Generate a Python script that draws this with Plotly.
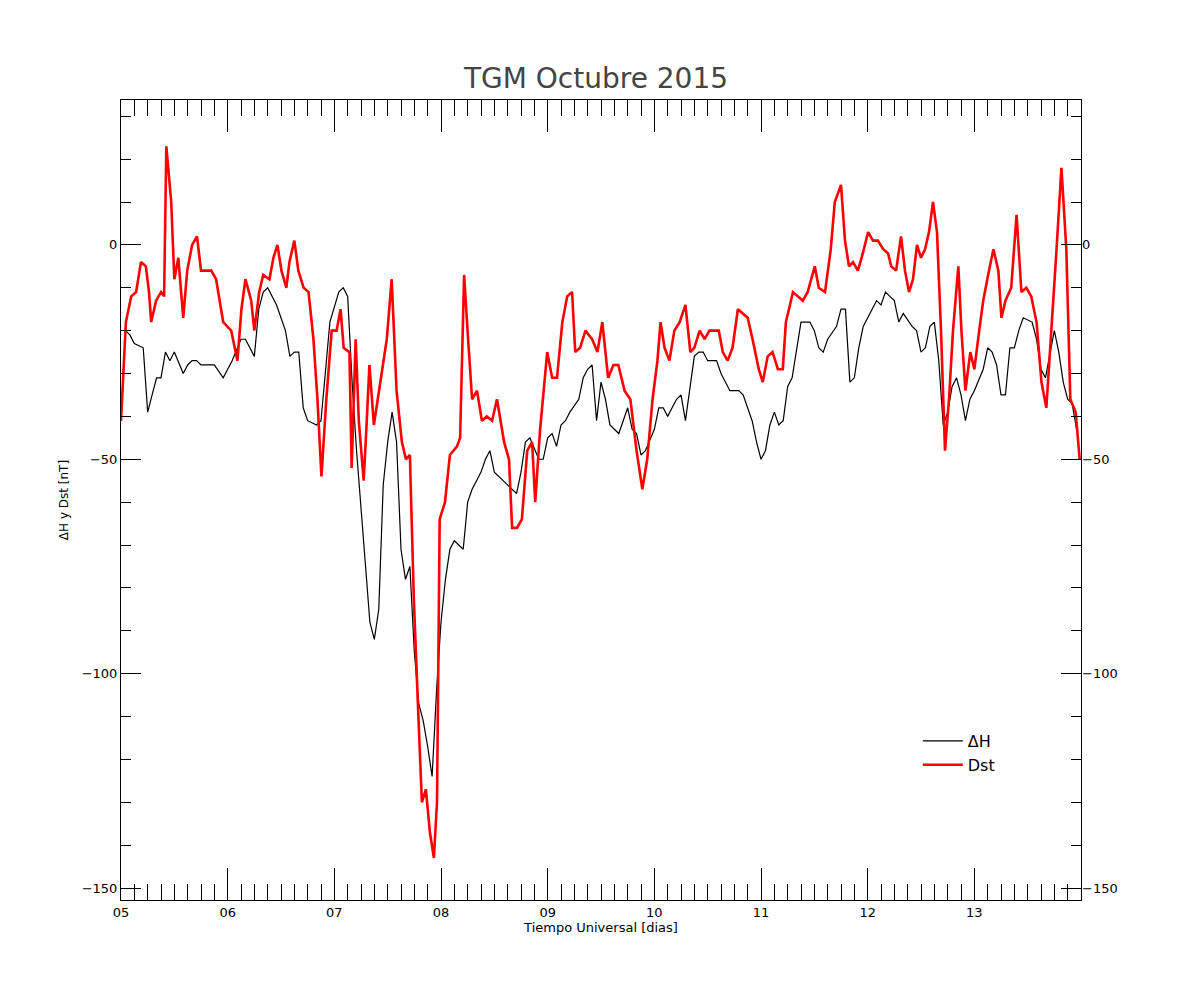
import plotly.graph_objects as go

# Dst (red), hours since 2015-10-05 00 UT
dst_h = [0, 1.1, 2.3, 3.4, 4.5, 5.6, 6.3, 6.8, 7.9, 9, 9.7, 10.2, 11.3, 12, 12.9, 14, 14.9, 16, 17.1, 18,
         20.3, 21.4, 23, 24.8, 26.2, 27.1, 28, 29.3, 30, 31.1, 32, 33.4, 34.3, 35.2, 36.1, 37.2, 37.9, 39, 39.9,
         41.1, 42.2, 43.3, 44.2, 45.1, 46.2, 47.4, 48.5, 49.4, 50.1, 51.4, 51.9, 52.8, 53.5, 54.6, 55.3, 55.9,
         56.9, 57.8, 58.7, 59.8, 60.9, 62, 63.2, 64.1, 65, 65.9, 66.8, 67.7, 68.6, 69.5, 70.4, 71.1, 71.7, 72.9,
         74, 75.6, 76.3, 77.2, 78.1, 79, 80.1, 81.2, 82.3, 83.5, 84.6, 86.2, 87.3, 88, 89.1, 90.2, 91.4, 92.5,
         93.2, 94.3, 95.9, 97, 98.1, 99.3, 100.4, 101.5, 102.2, 103.3, 104.5, 106, 107.2, 108.3, 109.6, 110.8,
         111.9, 113.3, 114.6, 116, 117.3, 118.4, 119.6, 120.7, 121.4, 122.3, 123.4, 124.5, 125.7, 127, 128.1,
         129, 130.2, 131.3, 132.4, 133.6, 134.5, 135.4, 136.5, 137.6, 138.8, 139.9, 141, 142.1, 143.5, 144.4,
         145.5, 146.6, 147.8, 148.9, 149.6, 151.2, 152.3, 153.4, 154.5, 156.1, 157, 158.4, 159.7, 160.6, 162,
         162.9, 163.8, 164.7, 165.8, 166.9, 168.1, 169.2, 170.3, 171.5, 172.6, 173.3, 174.4, 175.5, 176.4,
         177.3, 178.2, 179.1, 180, 180.9, 181.8, 182.7, 183.6, 184.5, 185.4, 186.3, 187.2, 188.4, 189.1, 190,
         191.1, 192, 193.1, 194, 195.1, 196.3, 197.4, 198.1, 199, 200.3, 201.5, 202.6, 203.7, 204.8, 206,
         207.1, 208.2, 209.4, 210.5, 211.6, 212.7, 213.6, 214.8, 215.7]
dst = [-41, -18, -12, -11, -4, -5, -11, -18, -13, -11, -12, 23, 10, -8, -3, -17, -6, 0, 2, -6,
       -6, -8, -18, -20, -27, -15, -8, -13, -20, -11, -7, -8, -3, 0, -6, -10, -4, 1, -6,
       -10, -11, -22, -36, -54, -36, -20, -20, -15, -24, -25, -52, -22, -41, -55, -41, -28,
       -42, -36, -29, -22, -8, -34, -46, -50, -49, -83, -107, -130, -127, -137, -143, -130, -64, -60,
       -49, -47, -45, -7, -22, -36, -34, -41, -40, -41, -36, -46, -50, -66, -66, -64, -48, -46,
       -60, -43, -25, -31, -31, -18, -12, -11, -25, -24, -20, -22, -25, -18, -31, -28,
       -28, -34, -36, -48, -57, -50, -36, -27, -18, -24, -27, -20, -18, -14, -25,
       -24, -20, -22, -20, -20, -20, -25, -27, -24, -15, -16, -17, -22, -29, -32,
       -26, -25, -29, -29, -18, -11, -12, -13, -11, -5, -10, -11, -1, 10, 14,
       1, -5, -4, -6, -2, 3, 1, 1, -1, -2, -5, -6, 2, -6,
       -11, -8, 0, -3, -1, 3, 10, 3, -20, -48, -36, -20, -5, -20, -34,
       -25, -29, -20, -13, -7, -1, -6, -17, -13, -10, 7, -11, -10, -12, -18,
       -32, -38, -20, -1, 18, -1, -36, -39, -50]

# Delta H (black)
dh_h = [0, 1, 2, 3, 5, 6, 7, 8, 9, 10, 11, 12, 14, 15, 16, 17, 18, 20, 21, 23, 24, 25, 27, 28, 30, 31, 32, 33,
        35, 37, 38, 39, 40, 41, 42, 44, 45, 46, 47, 49, 50, 51, 52, 53, 54, 55, 56, 57, 58, 59, 60, 61, 62, 63,
        64, 65, 66, 67, 68, 69, 70, 71, 72, 73, 74, 75, 76, 77, 78, 79, 80, 81, 82, 83, 84, 85, 86, 87, 88, 89,
        90, 91, 92, 94, 95, 96, 97, 98, 99, 100, 101, 103, 104, 105, 106, 107, 108, 109, 110, 112, 113, 114,
        115, 116, 117, 118, 120, 121, 122, 123, 124, 125, 126, 127, 129, 130, 131, 132, 133, 134, 135, 137,
        138, 139, 140, 141, 142, 143, 144, 145, 146, 147, 148, 149, 150, 151, 152, 153, 155, 156, 157, 158,
        159, 161, 162, 163, 164, 165, 166, 167, 169, 170, 171, 172, 173, 174, 175, 176, 178, 179, 180, 181,
        182, 183, 184, 185, 186, 187, 188, 189, 190, 191, 192, 194, 195, 196, 197, 198, 199, 200, 201, 202,
        203, 205, 206, 207, 208, 209, 210, 211, 212, 213, 214, 215]
dh = [-41, -20, -21, -23, -24, -39, -35, -31, -31, -25, -27, -25, -30, -28, -27, -27, -28, -28, -28, -31, -29,
      -27, -22, -22, -26, -15, -11, -10, -14, -20, -26, -25, -25, -38, -41, -42, -41, -29, -18, -11, -10, -12,
      -32, -48, -62, -76, -88, -92, -85, -56, -46, -39, -46, -71, -78, -75, -95, -107, -111, -117, -124, -104,
      -88, -78, -71, -69, -70, -71, -60, -57, -55, -53, -50, -48, -53, -54, -55, -56, -57, -58, -53, -46, -45,
      -50, -50, -45, -44, -47, -42, -41, -39, -36, -31, -29, -28, -41, -32, -36, -42, -44, -41, -38, -43, -44,
      -49, -48, -43, -38, -38, -40, -38, -36, -35, -41, -26, -25, -25, -27, -27, -27, -30, -34, -34, -34, -35,
      -38, -41, -46, -50, -48, -42, -39, -42, -41, -33, -31, -25, -18, -18, -20, -24, -25, -22, -19, -15, -15,
      -32, -31, -24, -19, -15, -13, -14, -11, -12, -13, -18, -16, -19, -20, -25, -24, -19, -18, -27, -42, -39,
      -33, -31, -35, -41, -36, -34, -29, -24, -25, -28, -35, -35, -24, -24, -20, -17, -18, -22, -29, -31, -25,
      -20, -25, -32, -36, -37, -43]

day_ticks = [0, 24, 48, 72, 96, 120, 144, 168, 192]
day_labels = ["05", "06", "07", "08", "09", "10", "11", "12", "13"]
y_ticks = [-150, -100, -50, 0]
y_labels = ["\u2212150", "\u2212100", "\u221250", "0"]

fig = go.Figure()
fig.add_trace(go.Scatter(x=dh_h, y=dh, mode="lines", name="ΔH", line=dict(color="black", width=1.2)))
fig.add_trace(go.Scatter(x=dst_h, y=dst, mode="lines", name="Dst", line=dict(color="#ff0000", width=2.6)))
# invisible trace so the right-hand labels show
fig.add_trace(go.Scatter(x=[0], y=[0], yaxis="y2", showlegend=False, hoverinfo="skip",
                         mode="markers", marker=dict(opacity=0)))

fig.update_layout(
    width=1200, height=1000, plot_bgcolor="white", paper_bgcolor="white",
    margin=dict(l=113, r=127, t=92, b=108, pad=0, autoexpand=False),
    font=dict(family="DejaVu Sans", size=13, color="black"),
    title=dict(text="TGM Octubre 2015", x=0.49, y=0.93, xanchor="center", yanchor="middle",
               font=dict(size=28, family="DejaVu Sans", color="#444")),
    showlegend=True,
    legend=dict(x=0.83, y=0.22, xanchor="left", yanchor="top", bgcolor="rgba(0,0,0,0)",
                font=dict(size=16), itemwidth=40),
    xaxis=dict(range=[0, 216], tickvals=day_ticks, ticktext=day_labels, ticks="inside", ticklen=32,
               tickcolor="black", showline=True, linecolor="black", mirror="ticks", showgrid=False,
               zeroline=False, title=dict(text="Tiempo Universal [dias]", font=dict(size=13), standoff=2),
               minor=dict(dtick=3, ticks="inside", ticklen=16, tickcolor="black", showgrid=False)),
    yaxis=dict(range=[-152.8, 33.8], tickvals=y_ticks, ticktext=y_labels,
               ticks="inside", ticklen=20, tickcolor="black", showline=True, linecolor="black",
               mirror="ticks", showgrid=False, zeroline=False,
               title=dict(text="ΔH y Dst [nT]", font=dict(size=12), standoff=10),
               minor=dict(dtick=10, ticks="inside", ticklen=10, tickcolor="black", showgrid=False)),
    yaxis2=dict(range=[-152.8, 33.8], overlaying="y", side="right", tickvals=y_ticks,
                ticktext=y_labels, ticks="", showgrid=False, zeroline=False, showline=False),
)

fig.write_html("out.html")
